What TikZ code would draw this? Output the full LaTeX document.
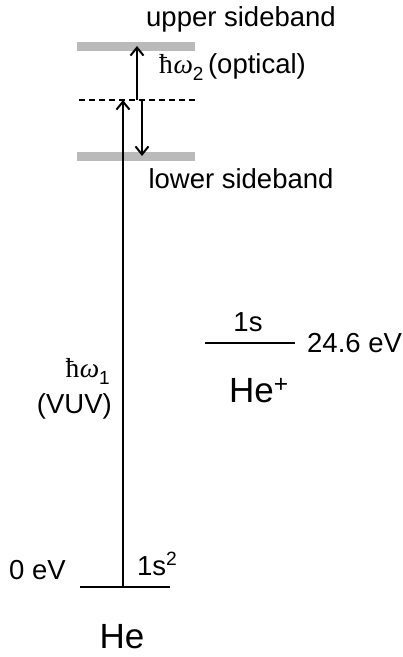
\documentclass[tikz,border=0pt]{standalone}
\usepackage{fontspec}
\setmainfont{Liberation Sans}
\newfontfamily\serifhbar{Liberation Serif}
\usetikzlibrary{arrows.meta}
\newcommand{\hw}[1]{{\serifhbar ħ\kern0.02em\textit{ω}}\raisebox{-0.28em}{\fontsize{19}{20}\selectfont #1}}
\begin{document}
\begin{tikzpicture}[x=1pt,y=-1pt,
  every node/.style={font=\fontsize{27.5}{31}\selectfont, inner sep=0pt},
  big/.style={font=\fontsize{35}{40}\selectfont},
  band/.style={line width=9pt, black!27},
  lvl/.style={line width=2.8pt},
  virt/.style={line width=1.5pt, dash pattern=on 6pt off 4pt},
  arr/.style={line width=2pt, -{Straight Barb[length=8pt,width=13pt,line width=2pt]}}]
\useasboundingbox (0,0) rectangle (403,657);
% sidebands and virtual level
\coordinate (ub1) at (77,46);  \coordinate (ub2) at (195,46);
\coordinate (lb1) at (77,156); \coordinate (lb2) at (195,156);
\coordinate (vl1) at (79,100); \coordinate (vl2) at (197,100);
\draw[band] (ub1) -- (ub2);
\draw[band] (lb1) -- (lb2);
\draw[virt] (vl1) -- (vl2);
% ground level
\coordinate (g1) at (80,587); \coordinate (g2) at (170,587);
\draw[lvl] (g1) -- (g2);
% He+ level
\coordinate (i1) at (205,343); \coordinate (i2) at (295,343);
\draw[lvl] (i1) -- (i2);
% arrows
\coordinate (a0) at (123,587); \coordinate (a1) at (123,100);
\draw[arr] (a0) -- (a1);
\coordinate (b0) at (137,100); \coordinate (b1) at (137,46);
\draw[arr] (b0) -- (b1);
\coordinate (c0) at (142,100); \coordinate (c1) at (142,156);
\draw[arr] (c0) -- (c1);
% labels
\node[anchor=base] (tup) at (241,26) {upper sideband};
\node[anchor=base] (tlo) at (241,188) {lower sideband};
\node[anchor=base west] (tw2) at (159,73) {\hw{2}\,(optical)};
\node[anchor=base east] (tw1) at (110,377) {\hw{1}};
\node[anchor=base east] (tvuv) at (112,413) {(VUV)};
\node[anchor=base] (t1s) at (248,331) {1s};
\node[anchor=base west] (tion) at (307,352) {24.6 eV};
\node[big, anchor=base west] (thep) at (229,402) {He\textsuperscript{+}};
\node[anchor=base west] (t0) at (9,579) {0 eV};
\node[anchor=base west] (t1s2) at (137,575) {1s\textsuperscript{2}};
\node[big, anchor=base] (the) at (122,648) {He};
\end{tikzpicture}
\end{document}
